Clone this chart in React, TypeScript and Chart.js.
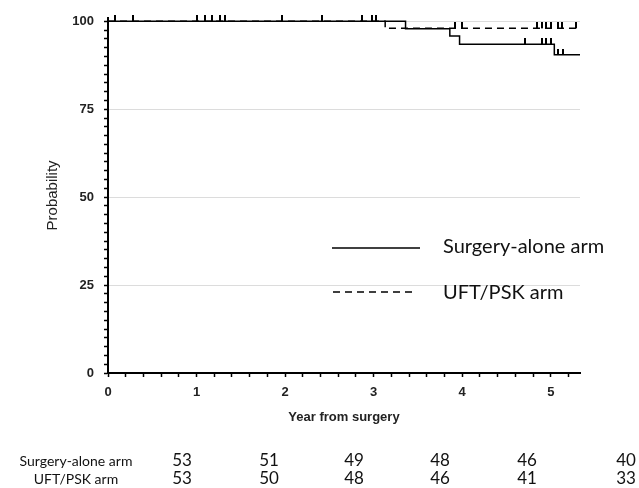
import React, { useEffect, useRef } from 'react';
import { Chart, registerables } from 'chart.js';

Chart.register(...registerables);

// Kaplan-Meier step data (time in years, survival probability %)
const surgeryTimes = [0, 3.36, 3.86, 3.97, 5.04, 5.33];
const surgerySurv = [100, 97.9, 95.8, 93.5, 90.5, 90.5];
const uftTimes = [0, 3.13, 5.33];
const uftSurv = [100, 98.0, 98.0];

// Censoring times
const surgeryCensor = [0.08, 1.0, 1.18, 1.32, 2.42, 2.98, 3.03, 4.71, 4.9, 4.95, 5.0, 5.08, 5.14];
const uftCensor = [0.28, 1.09, 1.26, 1.96, 2.87, 3.92, 4.0, 4.85, 4.9, 4.95, 5.0, 5.08, 5.13, 5.29];

// Number at risk table
const riskLabels = ['Surgery-alone arm', 'UFT/PSK arm'];
const riskSurgery = [53, 51, 49, 48, 46, 40];
const riskUft = [53, 50, 48, 46, 41, 33];

// Axis ticks / labels
const xMajorTicks = [0, 1, 2, 3, 4, 5];
const yMajorTicks = [0, 25, 50, 75, 100];
const xTitle = 'Year from surgery';
const yTitle = 'Probability';
const legendLabels = ['Surgery-alone arm', 'UFT/PSK arm'];

const X_MAX = 5.33;
const Y_MAX = 101;

function survAt(times: number[], surv: number[], t: number) {
  let v = surv[0];
  for (let i = 0; i < times.length; i++) {
    if (times[i] <= t) v = surv[i];
  }
  return v;
}

function makeTickImage() {
  const c = document.createElement('canvas');
  c.width = 2;
  c.height = 12;
  const g = c.getContext('2d')!;
  g.fillStyle = '#000';
  g.fillRect(0, 0, 2, 6);
  return c;
}

const overlayPlugin = {
  id: 'overlay',
  afterDraw(chart: any) {
    const ctx = chart.ctx as CanvasRenderingContext2D;
    const area = chart.chartArea;
    ctx.save();
    // y title
    ctx.fillStyle = '#222';
    ctx.font = '15px "Liberation Sans", Arial, sans-serif';
    ctx.textAlign = 'center';
    ctx.textBaseline = 'middle';
    ctx.save();
    ctx.translate(53, (area.top + area.bottom) / 2);
    ctx.rotate(-Math.PI / 2);
    ctx.fillText(yTitle, 0, 0);
    ctx.restore();
    // x title
    ctx.font = 'bold 13px "Liberation Sans", Arial, sans-serif';
    ctx.fillText(xTitle, (area.left + area.right) / 2, 417);

    // legend
    ctx.strokeStyle = '#000';
    ctx.lineWidth = 1.5;
    ctx.beginPath();
    ctx.moveTo(332, 248);
    ctx.lineTo(420, 248);
    ctx.stroke();
    ctx.setLineDash([7, 5]);
    ctx.beginPath();
    ctx.moveTo(333, 292);
    ctx.lineTo(414, 292);
    ctx.stroke();
    ctx.setLineDash([]);
    ctx.fillStyle = '#111';
    ctx.textAlign = 'left';
    ctx.font = '20px Lato, "Open Sans", sans-serif';
    ctx.fillText(legendLabels[0], 443, 247);
    ctx.fillText(legendLabels[1], 443, 293);

    // risk table
    const cols = [182, 269, 354, 440, 527, 626];
    ctx.font = '14px Lato, "Open Sans", sans-serif';
    ctx.textAlign = 'center';
    ctx.fillText(riskLabels[0], 76, 461);
    ctx.fillText(riskLabels[1], 76, 479);
    ctx.font = '17px Lato, "Open Sans", sans-serif';
    riskSurgery.forEach((n, i) => ctx.fillText(String(n), cols[i], 461));
    riskUft.forEach((n, i) => ctx.fillText(String(n), cols[i], 479));
    ctx.restore();
  },
};

export default function App() {
  const ref = useRef<HTMLCanvasElement>(null);
  useEffect(() => {
    document.body.style.margin = '0';
    const tick = makeTickImage();
    const isInt = (v: number) => Math.abs(v - Math.round(v)) < 1e-6;
    const chart = new Chart(ref.current!, {
      type: 'line',
      data: {
        datasets: [
          {
            label: legendLabels[0],
            data: surgeryTimes.map((t, i) => ({ x: t, y: surgerySurv[i] })),
            borderColor: '#000',
            borderWidth: 1.5,
            stepped: 'before',
            pointRadius: 0,
            fill: false,
            clip: false as any,
          },
          {
            label: legendLabels[1],
            data: uftTimes.map((t, i) => ({ x: t, y: uftSurv[i] })),
            borderColor: '#000',
            borderWidth: 1.5,
            borderDash: [7, 5],
            stepped: 'before',
            pointRadius: 0,
            fill: false,
            clip: false as any,
          },
          {
            label: 'censor1',
            data: surgeryCensor.map((t) => ({ x: t, y: survAt(surgeryTimes, surgerySurv, t) })),
            showLine: false,
            pointStyle: tick as any,
            pointRadius: 6,
            clip: false as any,
          },
          {
            label: 'censor2',
            data: uftCensor.map((t) => ({ x: t, y: survAt(uftTimes, uftSurv, t) })),
            showLine: false,
            pointStyle: tick as any,
            pointRadius: 6,
            clip: false as any,
          },
        ],
      },
      options: {
        responsive: false,
        animation: false,
        layout: { padding: { top: 16, right: 59, bottom: 0, left: 0 } },
        plugins: { legend: { display: false }, tooltip: { enabled: false } },
        scales: {
          x: {
            type: 'linear',
            min: 0,
            max: X_MAX,
            afterFit: (s: any) => { s.height = 115; },
            border: { display: true, color: '#000', width: 2 },
            grid: { drawOnChartArea: false, drawTicks: true, tickLength: 4, tickColor: '#000', tickWidth: 1.5 },
            ticks: {
              stepSize: 0.2,
              includeBounds: false,
              autoSkip: false,
              maxRotation: 0,
              padding: 8,
              color: '#222',
              font: { family: '"Liberation Sans", Arial, sans-serif', size: 13, weight: 'bold' },
              callback: (v: any) => (isInt(v) && xMajorTicks.includes(Math.round(v)) ? String(Math.round(v)) : ''),
            },
          },
          y: {
            type: 'linear',
            min: 0,
            max: Y_MAX,
            afterFit: (s: any) => { s.width = 108; },
            border: { display: true, color: '#000', width: 2 },
            grid: {
              drawTicks: true,
              tickLength: 4,
              tickColor: '#000',
              tickWidth: 1.5,
              color: (c: any) => (c.tick && c.tick.value > 0 && yMajorTicks.includes(c.tick.value) ? '#dcdcdc' : 'rgba(0,0,0,0)'),
            },
            ticks: {
              stepSize: 2.5,
              includeBounds: false,
              autoSkip: false,
              padding: 10,
              color: '#222',
              font: { family: '"Liberation Sans", Arial, sans-serif', size: 13, weight: 'bold' },
              callback: (v: any) => (yMajorTicks.includes(v) ? String(v) : ''),
            },
          },
        },
      },
      plugins: [overlayPlugin],
    });
    return () => chart.destroy();
  }, []);
  return (
    <div style={{ position: 'fixed', left: 0, top: 0, width: 639, height: 488, background: '#fff' }}>
      <canvas ref={ref} width={639} height={488} style={{ display: 'block' }} />
    </div>
  );
}
